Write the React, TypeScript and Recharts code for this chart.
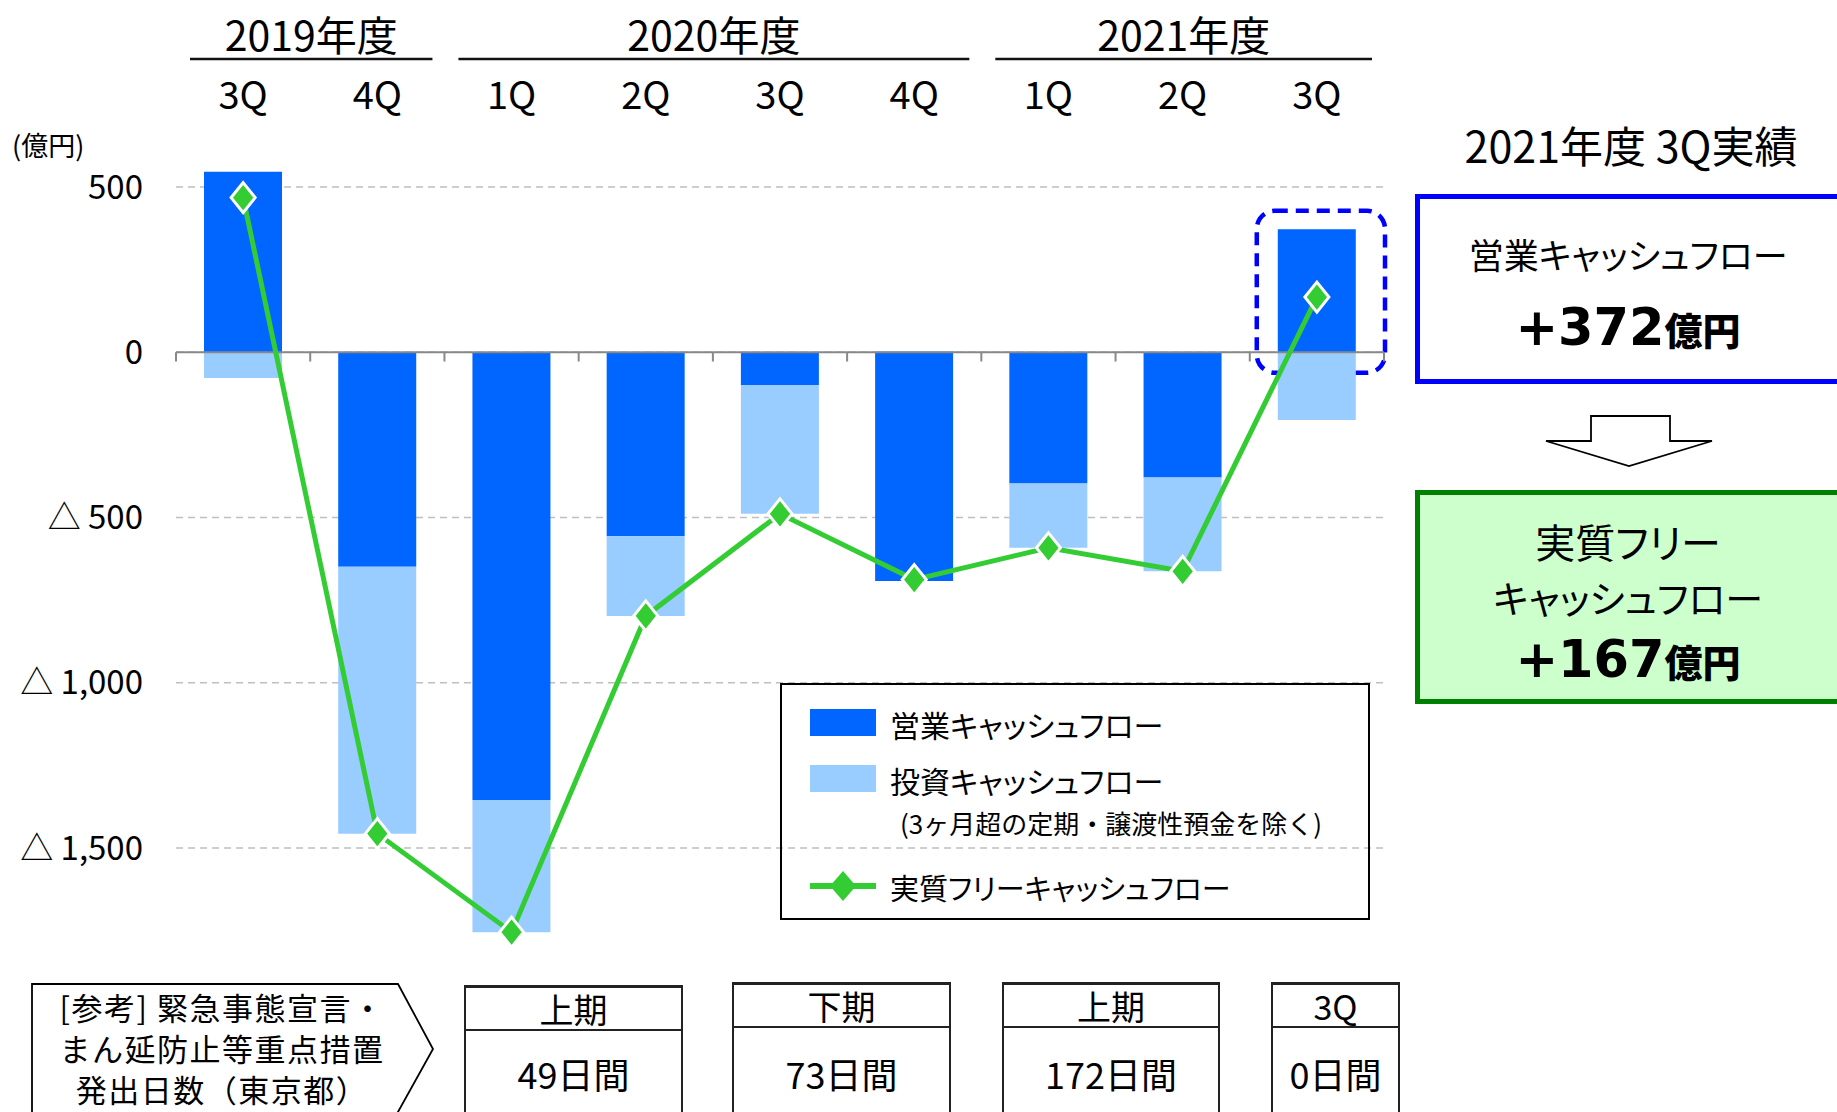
import { ComposedChart, Bar, Line, XAxis, YAxis, CartesianGrid, ReferenceLine, ReferenceArea } from 'recharts'

// quarter keys are unique, the tick shows only the part after the dash
const periods = ['19-3Q', '19-4Q', '20-1Q', '20-2Q', '20-3Q', '20-4Q', '21-1Q', '21-2Q', '21-3Q']
const operatingCF = [546, -649, -1355, -557, -99, -692, -397, -379, 372]
const investingCF = [-78, -808, -400, -241, -390, 4, -195, -284, -205]
const freeCF = [468, -1457, -1755, -798, -489, -688, -592, -663, 167]
const yTicks = [-1500, -1000, -500, 0, 500]

const fiscalYears = [
  { label: '2019年度', from: 0, to: 1 },
  { label: '2020年度', from: 2, to: 5 },
  { label: '2021年度', from: 6, to: 8 },
]

const emergencyHeads = ['上期', '下期', '上期', '3Q']
const emergencyDays = ['49日間', '73日間', '172日間', '0日間']
const noteLines = ['[参考] 緊急事態宣言・', 'まん延防止等重点措置', '発出日数（東京都）']

const data = periods.map((p, i) => ({
  period: p,
  operating: operatingCF[i],
  investing: investingCF[i],
  fcf: freeCF[i],
}))

const JP = '"Noto Sans CJK JP", "Noto Sans", sans-serif'
const BLUE = '#0066FF'
const LIGHT = '#99CCFF'
const GREEN = '#33CC33'

const CHART_W = 1400
const PLOT_LEFT = 176
const PLOT_RIGHT = 1384
const BAND = (PLOT_RIGHT - PLOT_LEFT) / periods.length

// boxes under the chart (left, width, top, divider)
const dayBoxes = [
  [464, 219, 985, 1029],
  [732, 219, 982, 1026],
  [1002, 218, 982, 1026],
  [1271, 129, 982, 1026],
]

function Txt({ x, y, size, children, anchor = 'middle', weight = 400, color = '#000', family = JP, palt = true, spacing = 0 }: any) {
  const tx = anchor === 'middle' ? '-50%' : anchor === 'end' ? '-100%' : '0'
  return (
    <div
      style={{
        position: 'absolute', left: x, top: y, transform: `translate(${tx}, -50%)`,
        fontSize: size, fontWeight: weight, color, fontFamily: family,
        whiteSpace: 'nowrap', lineHeight: 1, letterSpacing: spacing,
        fontFeatureSettings: palt ? '"palt"' : undefined,
      }}
    >
      {children}
    </div>
  )
}

const Diamond = (props: any) => {
  const { cx, cy, index } = props
  if (cx == null || cy == null) return <g key={`d-${index}`} />
  return (
    <polygon
      key={`d-${index}`}
      points={`${cx},${cy - 15} ${cx + 12},${cy} ${cx},${cy + 15} ${cx - 12},${cy}`}
      fill={GREEN}
      stroke="#fff"
      strokeWidth={3}
    />
  )
}

const yFormat = (v: number) => (v < 0 ? `△ ${Math.abs(v).toLocaleString('en-US')}` : `${v}`)

export default function App() {
  return (
    <div style={{ position: 'absolute', left: 0, top: 0, width: 1837, height: 1112, overflow: 'hidden', background: '#fff', fontFamily: JP }}>
      <div style={{ position: 'absolute', left: 0, top: 0 }}>
        <ComposedChart
          width={CHART_W}
          height={1112}
          data={data}
          stackOffset="sign"
          margin={{ top: 94, right: CHART_W - PLOT_RIGHT, bottom: 165, left: 0 }}
        >
          <CartesianGrid
            vertical={false}
            horizontalValues={yTicks}
            stroke="#BFBFBF"
            strokeWidth={1.5}
            strokeDasharray="7 5"
          />
          <XAxis
            dataKey="period"
            orientation="top"
            height={60}
            axisLine={false}
            tickLine={false}
            tickSize={0}
            tickMargin={45}
            interval={0}
            tickFormatter={(v: string) => v.split('-')[1]}
            tick={{ fontSize: 38, fill: '#000', fontFamily: JP }}
          />
          <YAxis
            width={PLOT_LEFT}
            domain={[-1800, 600]}
            ticks={yTicks}
            allowDataOverflow
            axisLine={false}
            tickLine={false}
            tickSize={0}
            tickMargin={33}
            tickFormatter={yFormat}
            tick={{ fontSize: 33, fill: '#000', fontFamily: JP }}
          />
          <Bar dataKey="operating" stackId="cf" fill={BLUE} barSize={78} isAnimationActive={false} />
          <Bar dataKey="investing" stackId="cf" fill={LIGHT} barSize={78} isAnimationActive={false} />
          <ReferenceLine y={0} stroke="#888" strokeWidth={2} />
          {periods.map((p) => (
            <ReferenceLine key={`t-${p}`} segment={[{ x: p, y: 0 }, { x: p, y: -28 }]} position="start" stroke="#888" strokeWidth={2} />
          ))}
          <ReferenceLine
            segment={[{ x: periods[periods.length - 1], y: 0 }, { x: periods[periods.length - 1], y: -28 }]}
            position="end"
            stroke="#888"
            strokeWidth={2}
          />
          <ReferenceArea
            x1={periods[periods.length - 1]}
            x2={periods[periods.length - 1]}
            y1={-62}
            y2={428}
            shape={(p: any) => (
              <rect
                x={p.x + 7}
                y={p.y}
                width={p.width - 6}
                height={p.height}
                rx={18}
                fill="none"
                stroke="#0000FF"
                strokeWidth={4.5}
                strokeDasharray="13 8"
              />
            )}
          />
          <Line
            dataKey="fcf"
            stroke={GREEN}
            strokeWidth={5}
            dot={Diamond}
            activeDot={false}
            isAnimationActive={false}
          />
        </ComposedChart>
      </div>

      {/* decorations: year rules, arrow, note pentagon */}
      <svg width={1837} height={1112} style={{ position: 'absolute', left: 0, top: 0, pointerEvents: 'none' }}>
        {fiscalYears.map((fy) => (
          <line
            key={fy.label}
            x1={PLOT_LEFT + fy.from * BAND + 14}
            x2={PLOT_LEFT + (fy.to + 1) * BAND - 12}
            y1={59}
            y2={59}
            stroke="#111"
            strokeWidth={2.5}
          />
        ))}
        <polygon points="1591,416 1670,416 1670,441 1712,441 1629,466 1546,441 1591,441" fill="#fff" stroke="#000" strokeWidth={1.8} />
        <polygon points="32,1200 32,984 398,984 433,1049 349,1200" fill="#fff" stroke="#000" strokeWidth={1.8} />
        <line x1={810} x2={876} y1={886} y2={886} stroke={GREEN} strokeWidth={6} />
        <polygon points="843,871 856,886 843,901 830,886" fill={GREEN} />
      </svg>

      {fiscalYears.map((fy) => (
        <Txt key={fy.label} x={PLOT_LEFT + ((fy.from + fy.to + 1) / 2) * BAND + 1} y={33} size={41}>{fy.label}</Txt>
      ))}

      <Txt x={12} y={144} size={27} anchor="start">(億円)</Txt>

      {/* legend */}
      <div style={{ position: 'absolute', left: 780, top: 683, width: 590, height: 237, border: '2px solid #000', boxSizing: 'border-box' }} />
      <div style={{ position: 'absolute', left: 810, top: 709, width: 66, height: 27, background: BLUE }} />
      <div style={{ position: 'absolute', left: 810, top: 765, width: 66, height: 27, background: LIGHT }} />
      <Txt x={890} y={724} size={30} anchor="start">営業キャッシュフロー</Txt>
      <Txt x={890} y={780} size={30} anchor="start">投資キャッシュフロー</Txt>
      <Txt x={900} y={823} size={26} anchor="start" palt={false}>(3ヶ月超の定期・譲渡性預金を除く)</Txt>
      <Txt x={890} y={887} size={29} anchor="start">実質フリーキャッシュフロー</Txt>

      {/* right panel */}
      <Txt x={1631} y={144} size={43}>2021年度 3Q実績</Txt>
      <div style={{ position: 'absolute', left: 1415, top: 194, width: 460, height: 190, border: '5px solid #0000FF', boxSizing: 'border-box' }} />
      <Txt x={1628} y={253} size={35}>営業キャッシュフロー</Txt>
      <Txt x={1628} y={327} size={38} weight={700}>
        <span style={{ fontFamily: '"DejaVu Sans", Verdana, sans-serif', fontSize: 51, fontWeight: 700 }}>+372</span>
        <span style={{ fontWeight: 900 }}>億円</span>
      </Txt>
      <div style={{ position: 'absolute', left: 1415, top: 490, width: 460, height: 214, border: '5px solid #008000', background: '#CCFFCC', boxSizing: 'border-box' }} />
      <Txt x={1628} y={541} size={40}>実質フリー</Txt>
      <Txt x={1628} y={597} size={38}>キャッシュフロー</Txt>
      <Txt x={1628} y={659} size={38} weight={700}>
        <span style={{ fontFamily: '"DejaVu Sans", Verdana, sans-serif', fontSize: 51, fontWeight: 700 }}>+167</span>
        <span style={{ fontWeight: 900 }}>億円</span>
      </Txt>

      {/* bottom note & day counts */}
      {noteLines.map((t, i) => (
        <Txt key={t} x={222} y={1006 + i * 41} size={31} palt={false} spacing={1.5}>{t}</Txt>
      ))}
      {dayBoxes.map(([left, width, top, divider], i) => (
        <div key={i}>
          <div style={{ position: 'absolute', left, top, width, height: 200, border: '2px solid #222', borderTopWidth: 3, boxSizing: 'border-box' }} />
          <div style={{ position: 'absolute', left, top: divider, width, height: 0, borderTop: '2px solid #222' }} />
          <Txt x={left + width / 2} y={(top + divider) / 2 + 2} size={34}>{emergencyHeads[i]}</Txt>
          <Txt x={left + width / 2} y={1073} size={36}>{emergencyDays[i]}</Txt>
        </div>
      ))}
    </div>
  )
}
